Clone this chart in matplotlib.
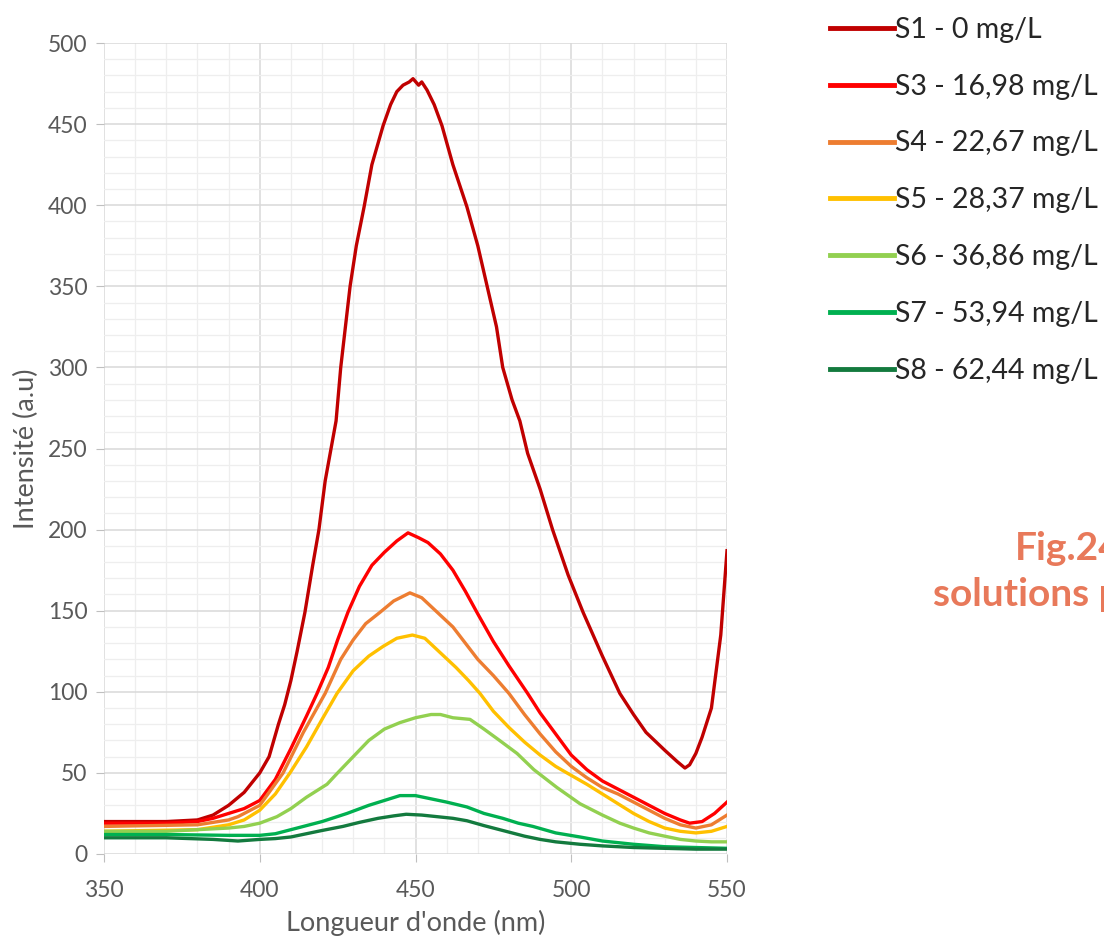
import matplotlib
matplotlib.use("Agg")
import matplotlib.pyplot as plt
from matplotlib.ticker import MultipleLocator

plt.rcParams['font.family'] = ['Lato', 'DejaVu Sans']

# courbes (longueur d'onde en nm, intensité en a.u)
s1_x = [350, 360, 370, 375, 380, 385, 390, 395, 400, 403, 406, 408, 410, 412, 414.5, 417, 419, 421,
        424.5, 426, 429, 431, 433.5, 436, 439.6, 442, 444, 446, 448, 449.2, 451, 452, 453.7, 456, 458.5,
        462, 466.5, 470, 473, 476, 478, 481, 483.5, 486, 490, 494, 499, 503.8, 510, 515.6, 520, 524,
        530, 534, 536.5, 538, 540, 542, 545, 548, 550]
s1_y = [20, 20, 20, 20.5, 21, 24, 30, 38, 50, 60, 80, 92, 107, 125, 149, 178, 200, 230,
        267, 300, 350, 375, 399, 425, 449, 462, 470, 474, 476, 478, 474, 476, 471, 462, 449,
        425, 399, 375, 350, 325, 300, 280, 267, 247, 225, 200, 172, 149, 122, 99, 86, 75,
        64, 57, 53, 55, 62, 72, 90, 135, 187]

s3_x = [350, 370, 380, 385, 390, 395, 400, 405, 410, 415, 418.4, 422, 425, 428.3, 432, 436, 440, 444,
        447.6, 451, 454, 458, 462, 466, 470, 475, 480, 486, 490, 495, 500, 505, 510, 515, 520, 526,
        530, 535, 538, 542, 546, 550]
s3_y = [19, 19, 20, 22, 25, 28, 33, 46, 65, 85, 99, 115, 132, 149, 165, 178, 186, 193,
        198, 195, 192, 185, 175, 162, 148, 131, 116, 99, 87, 74, 61, 52, 45, 40, 35, 29,
        25, 21, 19, 20, 25, 32]

s4_x = [350, 380, 390, 393, 400, 407.5, 414, 421, 426, 430, 434, 438.6, 443, 448.2, 452, 457, 462,
        466, 470, 475, 480, 485, 490, 495, 500, 505, 510, 515, 520, 525, 530, 535, 540, 545, 550]
s4_y = [17, 18, 21, 23, 30, 50, 75, 99, 120, 132, 142, 149, 156, 161, 158, 149, 140,
        130, 120, 110, 99, 86, 74, 63, 54, 47, 41, 37, 32, 27, 22, 18, 16, 18, 24]

s5_x = [350, 380, 390, 395, 400, 405, 409.7, 415, 420, 424.8, 430, 435, 439.6, 444, 449, 453, 458,
        463, 467, 470.7, 475, 480, 485, 490, 495, 498.6, 505, 510, 515, 520, 525, 530, 535, 540,
        545, 550]
s5_y = [14, 15, 18, 21, 27, 37, 50, 66, 83, 99, 113, 122, 128, 133, 135, 133, 124,
        115, 107, 99, 88, 78, 69, 61, 54, 50, 43, 37, 31, 25, 20, 16, 14, 13,
        14, 17]

s6_x = [350, 370, 380, 390, 395, 400, 405.5, 410, 415, 421.6, 425, 430, 435, 440, 445, 450, 455, 458,
        462, 467.5, 472, 477, 482.6, 488, 495.4, 502.8, 510, 515.6, 520, 525, 530, 535, 540, 545, 550]
s6_y = [14, 14, 15, 16, 17, 19, 23, 28, 35, 43, 50, 60, 70, 77, 81, 84, 86, 86,
        84, 83, 77, 70, 62, 52, 41, 31, 24, 19, 16, 13, 11, 9, 8, 7.5, 7.5]

s7_x = [350, 370, 390, 400, 405, 410, 414, 420, 428, 435, 440, 445, 450, 455, 460, 466.5, 472, 478,
        483, 487.7, 495, 502.8, 510, 520, 530, 540, 550]
s7_y = [12, 12, 11.5, 11.5, 12.5, 15, 17, 20, 25, 30, 33, 36, 36, 34, 32, 29, 25, 22,
        19, 17, 13, 10.5, 8, 6, 4.5, 4, 3.5]

s8_x = [350, 370, 385, 393, 400, 405, 410, 415, 420, 426.7, 432, 438, 443, 447, 452, 457, 462, 466.5,
        472, 479, 485, 490, 495, 502.8, 510, 520, 530, 540, 550]
s8_y = [10, 10, 9, 8, 9, 9.5, 10.5, 12.5, 14.5, 17, 19.5, 22, 23.5, 24.5, 24, 23, 22, 20.5,
        17.5, 14, 11, 9, 7.5, 6, 5, 4, 3.5, 3, 3]

labels = ["S1 - 0 mg/L", "S3 - 16,98 mg/L", "S4 - 22,67 mg/L", "S5 - 28,37 mg/L",
          "S6 - 36,86 mg/L", "S7 - 53,94 mg/L", "S8 - 62,44 mg/L"]
couleurs = ['#C00000', '#FF0000', '#ED7D31', '#FFC000', '#92D050', '#00B050', '#137A3E']
series = [(s1_x, s1_y), (s3_x, s3_y), (s4_x, s4_y), (s5_x, s5_y),
          (s6_x, s6_y), (s7_x, s7_y), (s8_x, s8_y)]

fig = plt.figure(figsize=(11.04, 9.39), dpi=100)
ax = fig.add_axes([104 / 1104, 1 - 854 / 939, 623 / 1104, 811 / 939])

for (x, y), lab, c in zip(series, labels, couleurs):
    ax.plot(x, y, color=c, lw=2.4, label=lab, solid_joinstyle='round')

ax.set_xlim(350, 550)
ax.set_ylim(0, 500)
ax.xaxis.set_major_locator(MultipleLocator(50))
ax.xaxis.set_minor_locator(MultipleLocator(10))
ax.yaxis.set_major_locator(MultipleLocator(50))
ax.yaxis.set_minor_locator(MultipleLocator(10))
ax.grid(which='major', color='#D9D9D9', lw=1.1)
ax.grid(which='minor', color='#EEEEEE', lw=0.9)
ax.set_axisbelow(True)
for s in ax.spines.values():
    s.set_visible(False)
ax.tick_params(which='major', length=6, color='#BFBFBF', labelsize=16.5, labelcolor='#595959', pad=6)
ax.tick_params(which='minor', length=0)
ax.tick_params(axis='x', pad=13)

ax.set_xlabel("Longueur d'onde (nm)", fontsize=19.5, color='#595959', labelpad=6)
ax.set_ylabel("Intensité (a.u)", fontsize=19.5, color='#595959', labelpad=6)

leg = fig.legend(loc='upper left', bbox_to_anchor=(830 / 1104, 1 - 17 / 939), frameon=False,
                 fontsize=20.5, handlelength=2.25, handletextpad=0.05, labelspacing=1.08,
                 borderpad=0, borderaxespad=0)
for line in leg.get_lines():
    line.set_linewidth(3.5)
for t in leg.get_texts():
    t.set_color('#262626')

# légende de figure, coupée au bord droit comme dans l'original
fig.text(1015 / 1104, 1 - 548 / 939, "Fig.24", fontsize=28, fontweight='bold',
         color='#E8795A', va='center', ha='left')
fig.text(933 / 1104, 1 - 595 / 939, "solutions p", fontsize=28, fontweight='bold',
         color='#E8795A', va='center', ha='left')

fig.savefig("out.png", dpi=100)
